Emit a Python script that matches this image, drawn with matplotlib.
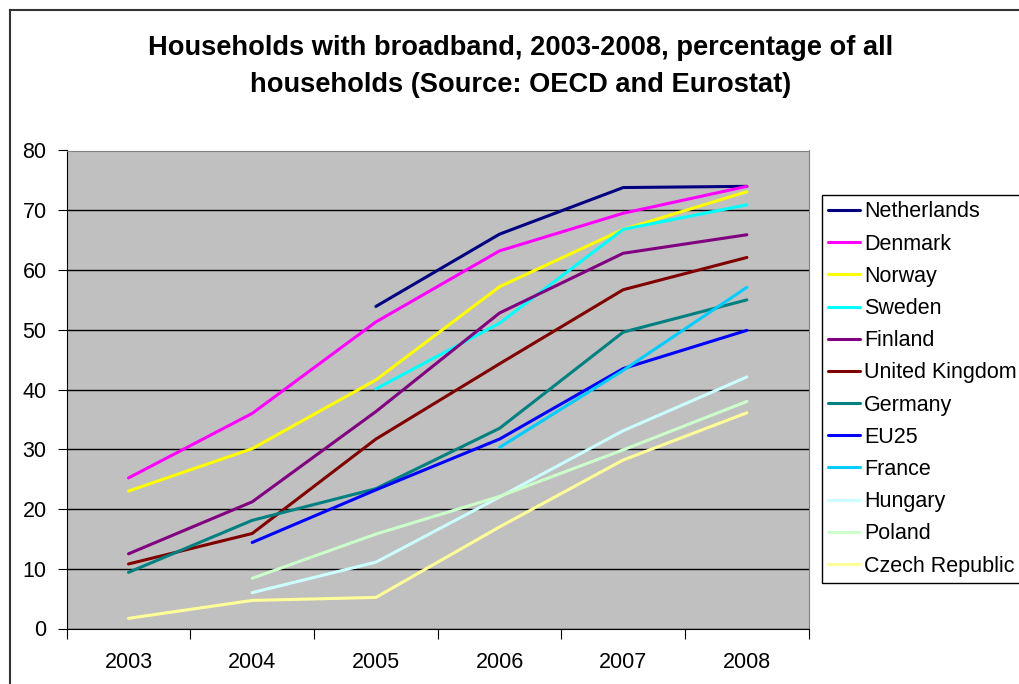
import numpy as np
import matplotlib
matplotlib.use("Agg")
from matplotlib import pyplot as plt
from matplotlib.lines import Line2D

plt.rcParams['font.family'] = ['Liberation Sans', 'DejaVu Sans']

years = ['2003', '2004', '2005', '2006', '2007', '2008']
nan = np.nan

netherlands = [nan, nan, 53.9, 66.0, 73.8, 74.0]
denmark = [25.2, 36.0, 51.3, 63.2, 69.5, 74.0]
norway = [23.0, 30.1, 41.6, 57.2, 66.8, 73.1]
sweden = [nan, nan, 40.1, 51.1, 66.8, 70.9]
finland = [12.5, 21.2, 36.3, 52.8, 62.8, 65.9]
uk = [10.8, 15.9, 31.7, 44.3, 56.7, 62.1]
germany = [9.4, 18.1, 23.4, 33.5, 49.6, 55.0]
eu25 = [nan, 14.4, 23.2, 31.7, 43.5, 49.9]
france = [nan, nan, nan, 30.3, 43.2, 57.1]
hungary = [nan, 6.0, 11.1, 22.0, 33.1, 42.1]
poland = [nan, 8.4, 15.8, 22.1, 29.9, 38.0]
czech = [1.7, 4.7, 5.2, 17.0, 28.2, 36.1]

series = [
    ('Netherlands', netherlands, '#000080'),
    ('Denmark', denmark, '#FF00FF'),
    ('Norway', norway, '#FFFF00'),
    ('Sweden', sweden, '#00FFFF'),
    ('Finland', finland, '#800080'),
    ('United Kingdom', uk, '#800000'),
    ('Germany', germany, '#008080'),
    ('EU25', eu25, '#0000FF'),
    ('France', france, '#00CCFF'),
    ('Hungary', hungary, '#CCFFFF'),
    ('Poland', poland, '#CCFFCC'),
    ('Czech Republic', czech, '#FFFF99'),
]

W, H = 1020, 684
fig = plt.figure(figsize=(W / 100, H / 100), dpi=100)

# outer chart border (left and top edges visible, rest runs off the image)
fig.add_artist(Line2D([10 / W, 10 / W], [0, 1 - 10 / H], transform=fig.transFigure,
                      color='#333333', linewidth=1.5))
fig.add_artist(Line2D([10 / W, 1], [1 - 10 / H, 1 - 10 / H], transform=fig.transFigure,
                      color='#333333', linewidth=1.5))

ax = fig.add_axes([66.7 / W, 1 - 628.5 / H, 742 / W, 478 / H])
ax.set_facecolor('#C0C0C0')

x = np.arange(len(years)) + 0.5
for name, vals, color in series:
    ax.plot(x, vals, color=color, linewidth=2.2, label=name, solid_capstyle='round')

ax.set_xlim(0, 6)
ax.set_ylim(0, 80)
ax.set_yticks(range(0, 81, 10))
ax.set_xticks(range(0, 7))
ax.set_xticklabels([])
ax.set_xticks(x, minor=True)
ax.set_xticklabels(years, minor=True)
ax.tick_params(axis='x', which='minor', length=0, pad=17, labelsize=15.5)
ax.tick_params(axis='x', which='major', length=7, direction='out', color='black')
ax.tick_params(axis='y', length=6.5, direction='out', labelsize=15.5, pad=8)
ax.yaxis.grid(True, color='black', linewidth=1)
ax.set_axisbelow(True)

for side in ['top', 'right']:
    ax.spines[side].set_color('#808080')
ax.spines['left'].set_color('black')
ax.spines['bottom'].set_color('black')

fig.text(521 / W, 1 - 66.5 / H, 'Households with broadband, 2003-2008, percentage of all\nhouseholds (Source: OECD and Eurostat)',
         ha='center', va='center', fontsize=19.6, fontweight='bold', linespacing=1.55)

leg = fig.legend(loc='upper left', bbox_to_anchor=(822 / W, 1 - 195 / H), fontsize=15.5,
                 frameon=True, fancybox=False, handlelength=1.45, handletextpad=0.2,
                 labelspacing=0.52, borderpad=0.3, borderaxespad=0, framealpha=1)
leg.get_frame().set_edgecolor('black')
leg.get_frame().set_linewidth(1)

fig.savefig('out.png', dpi=100)
